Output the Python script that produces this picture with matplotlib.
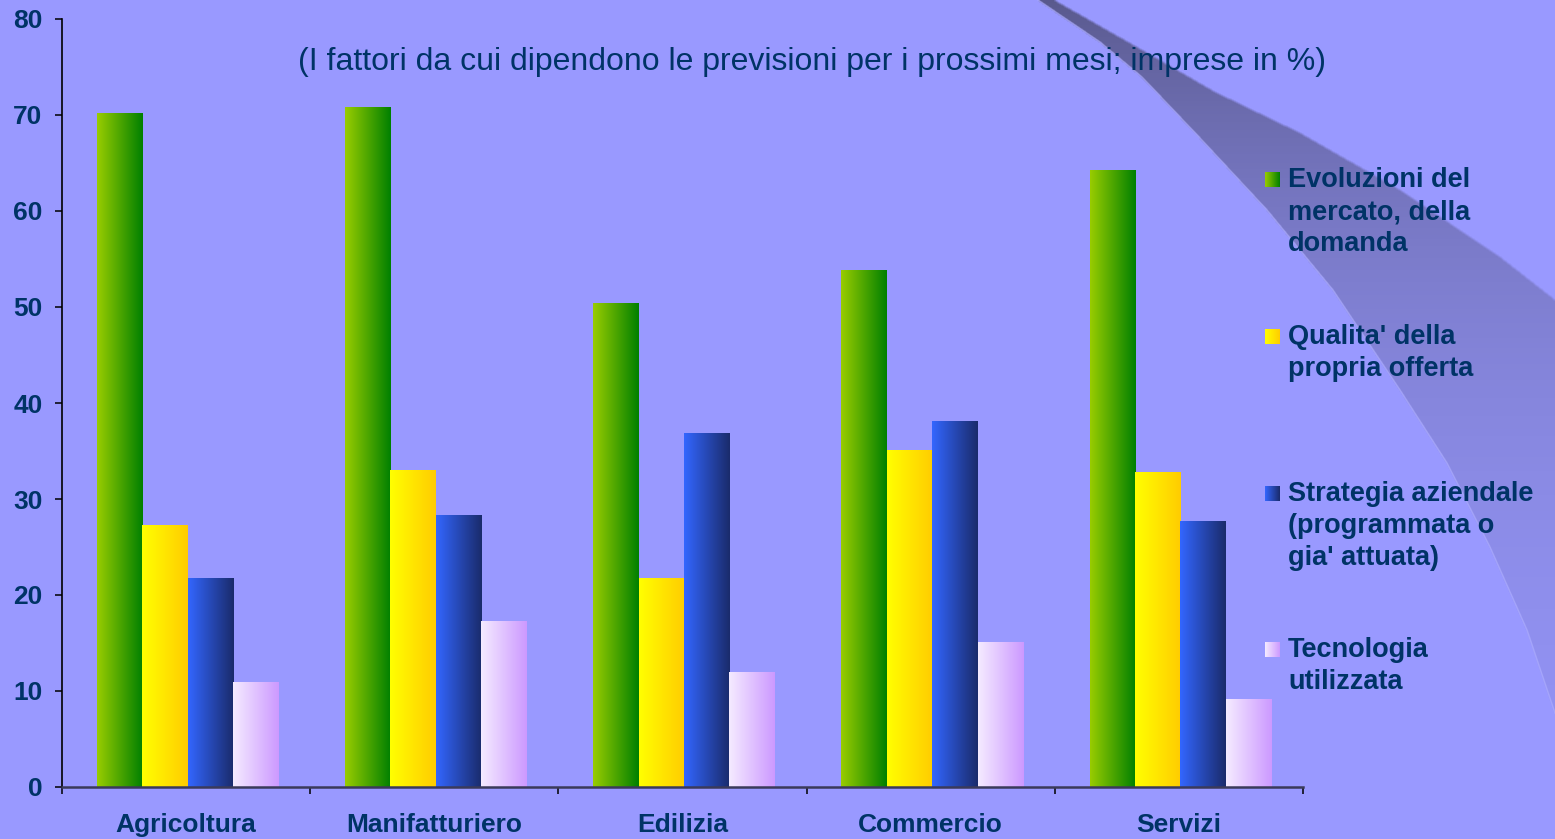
import numpy as np
import matplotlib
matplotlib.use("Agg")
import matplotlib.pyplot as plt
from matplotlib.path import Path
from matplotlib.colors import to_rgb

plt.rcParams['font.family'] = ['Liberation Sans', 'DejaVu Sans']

# ---- data -------------------------------------------------------------
categories = ["Agricoltura", "Manifatturiero", "Edilizia", "Commercio", "Servizi"]
series_labels = [
    "Evoluzioni del\nmercato, della\ndomanda",
    "Qualita' della\npropria offerta",
    "Strategia aziendale\n(programmata o\ngia' attuata)",
    "Tecnologia\nutilizzata",
]
mercato = [70.2, 70.8, 50.4, 53.9, 64.3]
qualita = [27.3, 33.0, 21.8, 35.1, 32.8]
strategia = [21.8, 28.3, 36.9, 38.1, 27.7]
tecnologia = [10.9, 17.3, 12.0, 15.1, 9.2]
y_ticks = [0, 10, 20, 30, 40, 50, 60, 70, 80]
subtitle = "(I fattori da cui dipendono le previsioni per i prossimi mesi; imprese in %)"

# ---- style ------------------------------------------------------------
W, H = 1555, 839
BG = "#9999FF"
TXT = "#003366"
gradients = [
    ("#99CC00", "#008000"),
    ("#FFFF00", "#FFCC00"),
    ("#3366FF", "#1A2B6B"),
    ("#F5EBFF", "#CC99FF"),
]


def hgrad(c0, c1, n=256):
    a, b = np.array(to_rgb(c0)), np.array(to_rgb(c1))
    t = np.linspace(0, 1, n)[None, :, None]
    return a[None, None, :] * (1 - t) + b[None, None, :] * t


def box_blur(arr, r):
    """Separable box blur with radius r (edge padded)."""
    k = 2 * r + 1
    out = arr
    for axis in (0, 1):
        pad = [(0, 0), (0, 0)]
        pad[axis] = (r + 1, r)
        p = np.pad(out, pad, mode="edge")
        c = np.cumsum(p, axis=axis)
        if axis == 0:
            out = (c[k:, :] - c[:-k, :]) / k
        else:
            out = (c[:, k:] - c[:, :-k]) / k
    return out


fig = plt.figure(figsize=(W / 100, H / 100), dpi=100, facecolor=BG)

# ---- decorative swoosh in the background (pixel coordinates) ----------
bg = fig.add_axes([0, 0, 1, 1], zorder=-10)
bg.set_xlim(0, W)
bg.set_ylim(H, 0)
bg.axis("off")
lower_edge = [(1038, 0), (1100, 42), (1142, 77), (1200, 138), (1267, 210),
              (1333, 290), (1400, 390), (1447, 463), (1490, 547), (1527, 630),
              (1555, 713)]
upper_edge = [(1555, 300), (1500, 257), (1400, 190), (1300, 133), (1215, 92),
              (1142, 50), (1054, 0)]
poly = Path(lower_edge + upper_edge + [lower_edge[0]])
yy, xx = np.mgrid[0:H, 0:W] + 0.5
inside = poly.contains_points(np.column_stack([xx.ravel(), yy.ravel()])).reshape(H, W)
mask = box_blur(inside.astype(float), 1)
alpha = 0.72 * np.exp(-yy / 330.0)
img = np.zeros((H, W, 4))
img[..., :3] = to_rgb("#404060")
img[..., 3] = mask * alpha
bg.imshow(img, extent=[0, W, H, 0], interpolation="bilinear", aspect="auto")
lx, ly = zip(*lower_edge)
bg.plot(lx, ly, color="#B8B8FF", lw=1.0, alpha=0.45)

# ---- main chart -------------------------------------------------------
ax = fig.add_axes([62 / W, 1 - 787 / H, 1241 / W, 768 / H])
ax.patch.set_alpha(0)
ax.set_xlim(-0.5, len(categories) - 0.5)
ax.set_ylim(0, 80)

x = np.arange(len(categories))
bw = 0.183
shift = 0.006
series = [mercato, qualita, strategia, tecnologia]
for i, (vals, (c0, c1)) in enumerate(zip(series, gradients)):
    bars = ax.bar(x + shift + (i - 1.5) * bw, vals, width=bw, facecolor="none",
                  edgecolor="none", zorder=2)
    grad = hgrad(c0, c1)
    for rect in bars:
        x0, y0 = rect.get_x(), rect.get_y()
        im = ax.imshow(grad, extent=[x0, x0 + rect.get_width(), y0, y0 + rect.get_height()],
                       aspect="auto", interpolation="bilinear", zorder=2)
        im.set_clip_path(rect)

for s in ("top", "right"):
    ax.spines[s].set_visible(False)
ax.spines["left"].set_color("black")
ax.spines["left"].set_linewidth(1.2)
ax.spines["bottom"].set_color("#3A3A5A")
ax.spines["bottom"].set_linewidth(1.8)

ax.set_yticks(y_ticks)
ax.set_yticklabels([str(v) for v in y_ticks])
ax.tick_params(axis="y", direction="out", length=5, width=1.1, color="black",
               pad=9, labelsize=19, labelcolor=TXT)
for lab in ax.get_yticklabels():
    lab.set_fontweight("bold")

ax.set_xticks(np.arange(-0.5, len(categories), 1.0))
ax.set_xticklabels([])
ax.tick_params(axis="x", which="major", direction="out", length=5, width=1.1, color="black")
ax.set_xticks(x, minor=True)
ax.set_xticklabels(categories, minor=True)
ax.tick_params(axis="x", which="minor", length=0, pad=19, labelsize=19, labelcolor=TXT)
for lab in ax.get_xticklabels(minor=True):
    lab.set_fontweight("bold")

# ---- subtitle ---------------------------------------------------------
fig.text(812 / W, 1 - 62 / H, subtitle, ha="center", va="center",
         fontsize=23, color=TXT)

# ---- legend -----------------------------------------------------------
first_baselines = [187, 344, 501, 657]
line_step = 32
for label, (c0, c1), yb in zip(series_labels, gradients, first_baselines):
    kax = fig.add_axes([1265 / W, 1 - yb / H, 15 / W, 15 / H])
    kax.imshow(hgrad(c0, c1), aspect="auto", extent=[0, 1, 0, 1])
    kax.axis("off")
    for k, line in enumerate(label.split("\n")):
        fig.text(1288 / W, 1 - (yb + k * line_step) / H, line, ha="left",
                 va="baseline", fontsize=19.5, fontweight="bold", color=TXT)

fig.savefig("out.png", dpi=100, facecolor=BG)
